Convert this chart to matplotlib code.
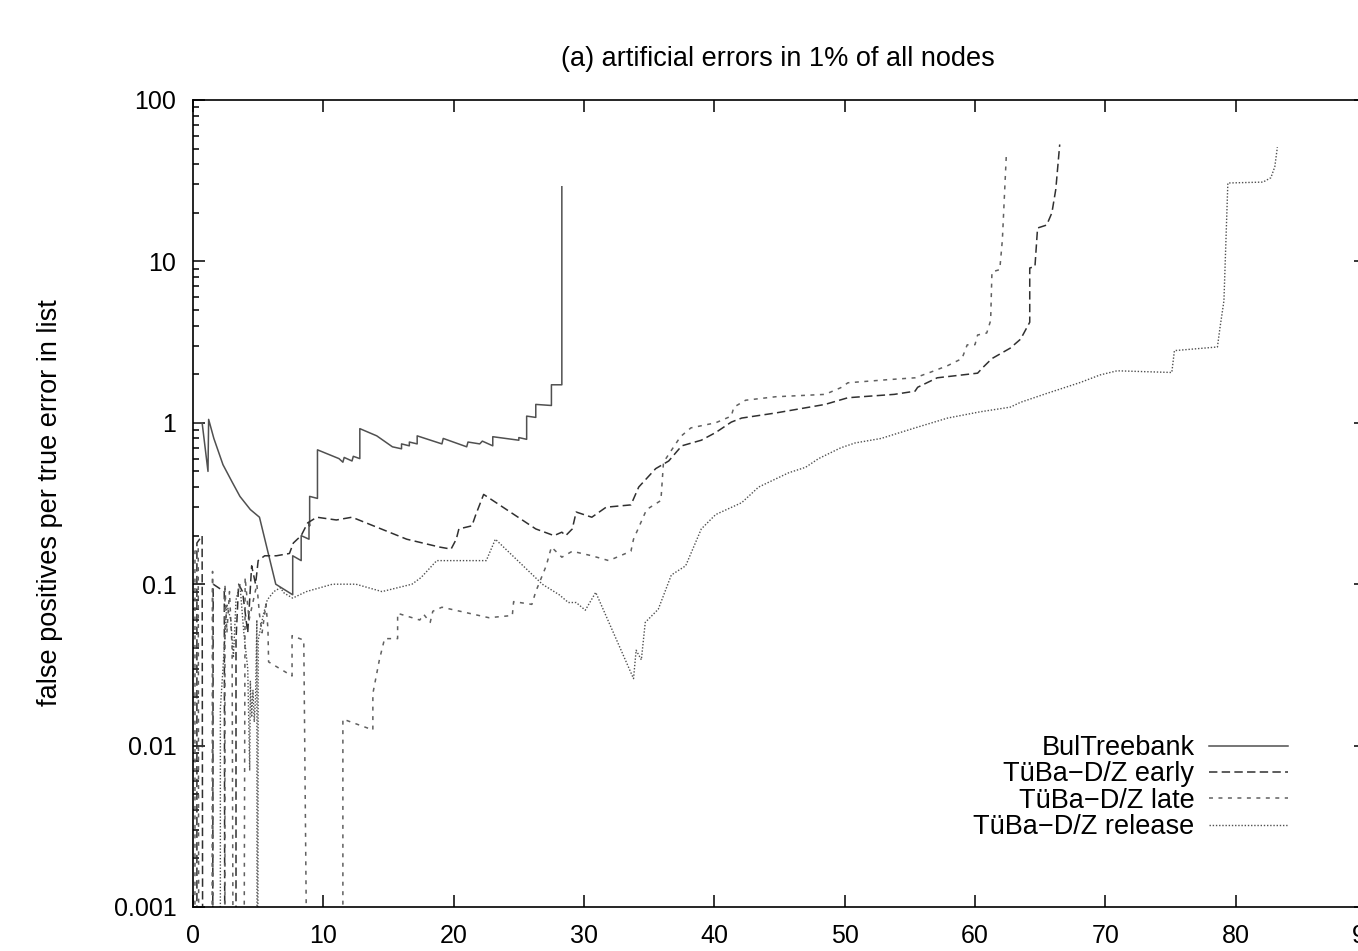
import matplotlib
matplotlib.use("Agg")
import matplotlib.pyplot as plt
from matplotlib.ticker import FixedLocator, LogLocator, NullFormatter, FuncFormatter

plt.rcParams["font.family"] = ["Liberation Sans", "DejaVu Sans"]

# values (0.0001 = curve drops to zero, below the axis)
bul_x = [0.1, 0.7, 1.15, 1.2, 1.6, 2.3, 3.0, 3.6, 4.4, 5.1,
         6.35, 7.65, 7.65, 8.3, 8.3, 8.9, 8.9, 8.95, 8.95, 9.55,
         9.55, 11.2, 11.5, 11.6, 12.2, 12.3, 12.8, 12.8, 14.1, 15.3,
         16.0, 16.0, 16.6, 16.6, 17.2, 17.2, 19.1, 19.2, 21.0, 21.1,
         22.0, 22.2, 23.0, 23.0, 25.0, 25.0, 25.6, 25.6, 26.3, 26.3,
         27.5, 27.5, 28.3, 28.3]
bul_y = [1.0, 1.0, 0.5, 1.05, 0.8, 0.55, 0.43, 0.35, 0.29, 0.26,
         0.1, 0.086, 0.15, 0.14, 0.2, 0.19, 0.24, 0.23, 0.35, 0.34,
         0.68, 0.6, 0.57, 0.61, 0.58, 0.62, 0.6, 0.92, 0.83, 0.71,
         0.69, 0.74, 0.72, 0.76, 0.74, 0.83, 0.74, 0.8, 0.71, 0.76,
         0.74, 0.77, 0.72, 0.82, 0.78, 0.81, 0.79, 1.1, 1.08, 1.3,
         1.28, 1.72, 1.72, 29]

early_x = [0.3, 0.3, 0.7, 0.75, 1.5, 1.55, 2.4, 2.45,
           3.3, 3.3, 3.5, 3.8, 4.2, 4.5, 4.8, 5.0, 5.5,
           6.4, 7.4, 7.7, 8.3, 8.8, 9.5, 11.0, 12.2,
           16.4, 18.9, 19.8, 20.2, 20.4, 21.4, 21.7, 22.3,
           26.3, 27.7, 28.3, 28.6, 29.1, 29.4, 30.6, 31.7,
           33.6, 34.2, 35.5, 36.5, 37.5, 39.0, 40.1, 41.3, 42.1,
           44.7, 48.5, 50.25, 53.8, 55.4, 55.6, 57.1,
           60.2, 60.6, 61.3, 62.7, 63.5, 64.2, 64.2, 64.6, 64.8, 65.5, 65.9, 66.2, 66.5]
early_y = [0.0001, 0.18, 0.2, 0.0001, 0.0001, 0.1, 0.09, 0.0001,
           0.0001, 0.045, 0.1, 0.09, 0.05, 0.13, 0.1, 0.14, 0.15,
           0.15, 0.155, 0.18, 0.2, 0.24, 0.26, 0.25, 0.26,
           0.19, 0.17, 0.165, 0.19, 0.22, 0.23, 0.27, 0.36,
           0.22, 0.2, 0.21, 0.2, 0.22, 0.28, 0.26, 0.3,
           0.31, 0.4, 0.52, 0.58, 0.72, 0.78, 0.87, 1.01, 1.07,
           1.15, 1.3, 1.43, 1.5, 1.57, 1.66, 1.9,
           2.03, 2.2, 2.5, 2.9, 3.3, 4.2, 9.1, 9.3, 16.1, 16.8, 20, 28, 53]

late_x = [0.15, 0.15, 0.4, 0.45, 1.45, 1.5, 1.55,
          2.45, 2.45, 2.6, 2.8, 3.0, 3.1,
          3.9, 4.0, 4.3, 4.9, 5.1, 5.3,
          5.6, 5.75, 5.8, 7.6, 7.6, 8.5, 8.8,
          11.5, 11.5, 13.8, 13.8, 14.3, 14.7, 15.7, 15.7,
          17.4, 17.7, 18.2, 18.4, 19.1, 22.7, 24.5, 24.6,
          26.0, 26.3, 27.1, 27.5, 28.3, 29.1, 30.6, 31.9,
          33.6, 33.8, 34.8, 35.9, 36.1, 37.4, 38.2, 40.1,
          41.3, 41.5, 42.4, 44.7, 48.5, 49.7, 50.25,
          53.3, 55.4, 56.6, 57.9, 59.0, 59.4, 60.0, 60.2,
          60.9, 61.2, 61.3, 61.9, 62.1, 62.4]
late_y = [0.0001, 0.16, 0.17, 0.0001, 0.0001, 0.12, 0.0001,
          0.0001, 0.1, 0.05, 0.09, 0.04, 0.0001,
          0.0001, 0.11, 0.06, 0.1, 0.065, 0.05,
          0.075, 0.053, 0.033, 0.027, 0.048, 0.045, 0.0001,
          0.0001, 0.0146, 0.0125, 0.021, 0.034, 0.046, 0.046, 0.066,
          0.06, 0.065, 0.058, 0.068, 0.072, 0.062, 0.064, 0.078,
          0.075, 0.09, 0.13, 0.17, 0.147, 0.16, 0.15, 0.14,
          0.16, 0.19, 0.29, 0.33, 0.57, 0.82, 0.93, 1.0,
          1.1, 1.25, 1.38, 1.45, 1.5, 1.65, 1.77,
          1.85, 1.9, 2.06, 2.26, 2.5, 3.04, 3.05, 3.5,
          3.6, 4.3, 8.6, 8.9, 13.6, 45]

rel_x = [2.1, 2.1, 2.3, 2.6, 2.9, 3.1, 3.3, 3.6, 3.9, 4.2,
         4.35, 4.4, 4.5, 4.6, 4.7, 4.8, 4.9, 4.92, 4.97, 5.0,
         5.4, 5.7, 6.2, 6.7, 7.0, 7.65, 8.7, 10.7, 12.5, 14.5,
         16.8, 17.5, 18.7, 22.5, 23.2, 26.8, 28.1, 28.8, 29.4, 30.1,
         30.9, 33.8, 34.0, 34.4, 34.7, 35.7, 36.7, 37.8, 39.0, 40.1,
         42.1, 43.4, 45.7, 47.0, 48.0, 49.7, 50.8, 52.8, 55.4, 57.9,
         60.4, 62.7, 63.5, 65.5, 68.1, 69.6, 70.9, 75.1, 75.3, 78.6,
         78.8, 79.1, 79.4, 82.1, 82.7, 83.0, 83.2]
rel_y = [0.0001, 0.017, 0.03, 0.075, 0.06, 0.035, 0.08, 0.1, 0.05, 0.03,
         0.007, 0.025, 0.015, 0.022, 0.014, 0.02, 0.06, 0.0001, 0.0001, 0.045,
         0.065, 0.08, 0.09, 0.095, 0.088, 0.082, 0.09, 0.1, 0.1, 0.09,
         0.1, 0.11, 0.14, 0.14, 0.19, 0.1, 0.086, 0.077, 0.077, 0.069,
         0.089, 0.026, 0.039, 0.034, 0.058, 0.07, 0.114, 0.13, 0.22, 0.27,
         0.32, 0.4, 0.49, 0.53, 0.6, 0.7, 0.75, 0.8, 0.93, 1.07,
         1.17, 1.25, 1.34, 1.52, 1.78, 1.98, 2.1, 2.05, 2.8, 2.95,
         3.9, 5.7, 30.6, 31, 33, 38.5, 51]

labels = ["BulTreebank", "TüBa\u2212D/Z early", "TüBa\u2212D/Z late", "TüBa\u2212D/Z release"]
x_ticks = [0, 10, 20, 30, 40, 50, 60, 70, 80, 90]
y_ticks = [0.001, 0.01, 0.1, 1, 10, 100]

W, H = 1358, 951
fig = plt.figure(figsize=(W / 100, H / 100), dpi=100)
# axes runs a bit past the right edge of the picture, like the reference
ax = fig.add_axes([193 / W, 1 - 907 / H, (1366 - 193) / W, (907 - 100) / H])

ax.plot(bul_x, bul_y, color="#505050", lw=1.1, ls="-", label=labels[0])
ax.plot(early_x, early_y, color="#303030", lw=1.1, ls=(0, (5.5, 2.8)), label=labels[1])
ax.plot(late_x, late_y, color="#606060", lw=1.1, ls=(0, (2.6, 3.6)), label=labels[2])
ax.plot(rel_x, rel_y, color="#505050", lw=1.0, ls=(0, (1.0, 1.3)), label=labels[3])

ax.set_yscale("log")
ax.set_xlim(0, 90)
ax.set_ylim(0.001, 100)
ax.xaxis.set_major_locator(FixedLocator(x_ticks))
ax.yaxis.set_major_locator(FixedLocator(y_ticks))
ax.yaxis.set_minor_locator(LogLocator(base=10, subs=range(2, 10)))
ax.yaxis.set_minor_formatter(NullFormatter())
ax.yaxis.set_major_formatter(FuncFormatter(lambda v, p: f"{v:g}"))

ax.tick_params(which="both", direction="in", top=True, right=True,
               labelsize=18, width=1.1, color="black")
ax.tick_params(which="major", length=8.5)
ax.tick_params(which="minor", length=4.3)
ax.tick_params(axis="y", pad=12)
ax.tick_params(axis="x", pad=12)
for s in ax.spines.values():
    s.set_linewidth(1.2)

fig.text(778 / W, 1 - 59 / H, "(a) artificial errors in 1% of all nodes",
         ha="center", va="center", fontsize=19.5)
fig.text(50 / W, 1 - 503 / H, "false positives per true error in list",
         ha="center", va="center", rotation=90, fontsize=19.5)

leg = ax.legend(loc="lower right", bbox_to_anchor=(0.9334, 0.083), frameon=False,
                markerfirst=False, fontsize=19.5, handlelength=2.9,
                handletextpad=0.55, labelspacing=0.01, borderpad=0, borderaxespad=0)
for t in leg.get_texts():
    t.set_ha("right")

fig.savefig("out.png", dpi=100)
